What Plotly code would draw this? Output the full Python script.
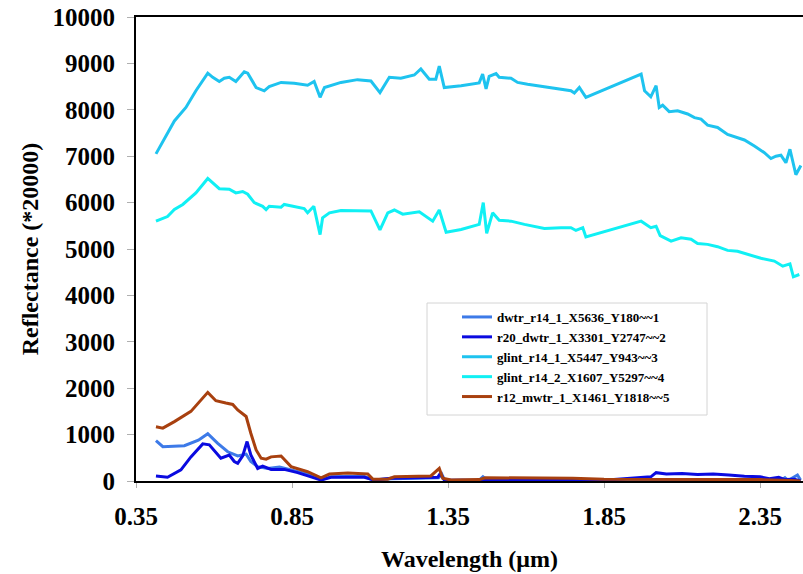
import plotly.graph_objects as go

# ---------------- data ----------------
series_names = [
    "dwtr_r14_1_X5636_Y180~~1",
    "r20_dwtr_1_X3301_Y2747~~2",
    "glint_r14_1_X5447_Y943~~3",
    "glint_r14_2_X1607_Y5297~~4",
    "r12_mwtr_1_X1461_Y1818~~5",
]
series_colors = ["#3d7ae8", "#0a0ae0", "#1ec3ef", "#10f0f4", "#a8400f"]

wl_1 = [0.414, 0.436, 0.505, 0.55, 0.58, 0.612, 0.644, 0.676, 0.703, 0.718, 0.74, 0.772,
        0.81, 0.847, 0.911, 0.948, 0.975, 1.08, 1.11, 1.17, 1.32, 1.33, 1.34, 1.45,
        1.462, 1.475, 1.6, 1.8, 2.0, 2.3, 2.42, 2.43, 2.44, 2.47, 2.48]
refl_1 = [870, 740, 760, 880, 1020, 810, 630, 540, 580, 420, 310, 270,
          300, 240, 130, 40, 90, 100, 20, 50, 70, 150, 10, 20,
          90, 20, 40, 20, 20, 10, 20, 70, 10, 130, 20]

wl_2 = [0.414, 0.451, 0.494, 0.526, 0.564, 0.585, 0.622, 0.649, 0.665, 0.676, 0.692, 0.706,
        0.718, 0.74, 0.756, 0.783, 0.825, 0.868, 0.911, 0.943, 0.975, 1.082, 1.114, 1.167,
        1.317, 1.325, 1.338, 1.45, 1.6, 1.86, 2.0, 2.017, 2.05, 2.1, 2.15, 2.2,
        2.25, 2.3, 2.35, 2.38, 2.41, 2.43, 2.46, 2.48]
refl_2 = [110, 80, 240, 520, 800, 780, 490, 560, 420, 380, 540, 850,
          560, 270, 320, 250, 250, 180, 90, 20, 80, 80, 20, 60,
          80, 160, 20, 10, 20, 20, 90, 180, 150, 160, 140, 150,
          130, 100, 90, 50, 80, 30, 40, 0]

wl_3 = [0.414, 0.473, 0.51, 0.542, 0.58, 0.596, 0.617, 0.633, 0.649, 0.67, 0.697, 0.708,
        0.735, 0.761, 0.777, 0.815, 0.857, 0.90, 0.921, 0.94, 0.954, 1.007, 1.06, 1.103,
        1.132, 1.162, 1.199, 1.242, 1.263, 1.29, 1.311, 1.322, 1.338, 1.392, 1.45, 1.461,
        1.472, 1.482, 1.504, 1.514, 1.552, 1.573, 1.605, 1.659, 1.712, 1.744, 1.755, 1.771,
        1.792, 1.969, 1.98, 2.0, 2.017, 2.027, 2.038, 2.059, 2.086, 2.118, 2.14, 2.161,
        2.182, 2.214, 2.246, 2.278, 2.3, 2.332, 2.363, 2.385, 2.401, 2.417, 2.433, 2.446,
        2.457, 2.465, 2.481]
refl_3 = [7050, 7760, 8050, 8410, 8790, 8700, 8610, 8680, 8700, 8610, 8820, 8790,
          8480, 8410, 8500, 8590, 8570, 8530, 8610, 8270, 8480, 8590, 8650, 8620,
          8370, 8700, 8680, 8750, 8880, 8660, 8660, 8940, 8480, 8520, 8580, 8770,
          8450, 8720, 8780, 8700, 8680, 8590, 8550, 8500, 8450, 8410, 8360, 8480,
          8270, 8770, 8410, 8280, 8520, 8050, 8100, 7960, 7980, 7910, 7830, 7800,
          7670, 7620, 7470, 7400, 7350, 7220, 7080, 6950, 7000, 7020, 6860, 7150,
          6830, 6600, 6800]

wl_4 = [0.414, 0.451, 0.473, 0.5, 0.542, 0.58, 0.617, 0.649, 0.67, 0.692, 0.708, 0.729,
        0.756, 0.767, 0.777, 0.815, 0.825, 0.868, 0.889, 0.90, 0.92, 0.94, 0.948, 0.97,
        1.007, 1.103, 1.132, 1.157, 1.178, 1.205, 1.258, 1.301, 1.322, 1.344, 1.392, 1.45,
        1.463, 1.474, 1.493, 1.514, 1.552, 1.595, 1.659, 1.712, 1.744, 1.76, 1.782, 1.792,
        1.969, 2.0, 2.017, 2.03, 2.065, 2.097, 2.129, 2.15, 2.182, 2.214, 2.246, 2.278,
        2.31, 2.353, 2.396, 2.423, 2.446, 2.457, 2.476]
refl_4 = [5600, 5700, 5850, 5960, 6210, 6520, 6300, 6290, 6210, 6240, 6180, 6000,
          5920, 5850, 5920, 5900, 5960, 5890, 5870, 5780, 5920, 5310, 5670, 5780,
          5830, 5820, 5410, 5780, 5840, 5750, 5800, 5600, 5840, 5360, 5420, 5530,
          6000, 5340, 5780, 5620, 5600, 5530, 5440, 5460, 5460, 5400, 5460, 5260,
          5600, 5460, 5490, 5290, 5170, 5240, 5210, 5120, 5100, 5050, 4970, 4950,
          4880, 4800, 4740, 4630, 4680, 4400, 4450]

wl_5 = [0.414, 0.436, 0.473, 0.526, 0.58, 0.606, 0.638, 0.66, 0.676, 0.703, 0.718, 0.735,
        0.751, 0.767, 0.783, 0.815, 0.847, 0.90, 0.943, 0.97, 1.029, 1.093, 1.109, 1.157,
        1.178, 1.295, 1.322, 1.333, 1.36, 1.45, 1.47, 1.6, 1.75, 1.85, 2.0, 2.2,
        2.35, 2.45, 2.48]
refl_5 = [1170, 1140, 1280, 1500, 1910, 1730, 1680, 1650, 1530, 1390, 1030, 670,
          490, 470, 520, 540, 310, 200, 70, 150, 170, 150, 40, 40,
          90, 110, 270, 60, 20, 30, 70, 70, 60, 40, 40, 40,
          30, 10, 0]

wavelengths = [wl_1, wl_2, wl_3, wl_4, wl_5]
reflectances = [refl_1, refl_2, refl_3, refl_4, refl_5]

x_ticks = [0.35, 0.85, 1.35, 1.85, 2.35]
x_tick_labels = ["0.35", "0.85", "1.35", "1.85", "2.35"]
y_ticks = [0, 1000, 2000, 3000, 4000, 5000, 6000, 7000, 8000, 9000, 10000]
y_tick_labels = [str(v) for v in y_ticks]

# ---------------- figure ----------------
SERIF = "Liberation Serif, Times New Roman, serif"

fig = go.Figure()
for name, color, xs, ys in zip(series_names, series_colors, wavelengths, reflectances):
    fig.add_trace(go.Scatter(x=xs, y=ys, mode="lines", name=name,
                             line=dict(color=color, width=3)))

fig.update_layout(
    width=803, height=574,
    margin=dict(l=136, r=0, t=17, b=93),
    paper_bgcolor="white", plot_bgcolor="white",
    showlegend=True,
    legend=dict(
        x=(457 - 136) / 667, y=1 - (302 - 17) / 464,
        xanchor="left", yanchor="top",
        bgcolor="rgba(0,0,0,0)", borderwidth=0,
        font=dict(family=SERIF, size=13, color="black", weight="bold"),
        tracegroupgap=0,
    ),
    shapes=[dict(type="rect", xref="paper", yref="paper",
                 x0=(427 - 136) / 667, x1=(707 - 136) / 667,
                 y0=1 - (303 - 17) / 464, y1=1 - (415 - 17) / 464,
                 line=dict(color="#d4d4d4", width=1), fillcolor="rgba(0,0,0,0)",
                 layer="below")],
)

fig.update_xaxes(
    range=[0.35, 0.35 + 667 / 312], tickvals=x_ticks, ticktext=x_tick_labels,
    showgrid=False, zeroline=False,
    showline=True, linecolor="black", linewidth=2, mirror=True,
    ticks="outside", ticklen=5, tickcolor="#b0b0b0", tickwidth=1,
    ticklabelstandoff=7,
    tickfont=dict(family=SERIF, size=25, color="black", weight="bold"),
    title=dict(text="Wavelength (\u03bcm)", standoff=21,
               font=dict(family=SERIF, size=24, color="black", weight="bold")),
)
fig.update_yaxes(
    range=[0, 10000], tickvals=y_ticks, ticktext=y_tick_labels,
    showgrid=False, zeroline=False,
    showline=True, linecolor="black", linewidth=2, mirror=False,
    ticks="outside", ticklen=7, tickcolor="#b0b0b0", tickwidth=1,
    ticklabelstandoff=7,
    tickfont=dict(family=SERIF, size=25, color="black", weight="bold"),
    title=dict(text="Reflectance (*20000)", standoff=7,
               font=dict(family=SERIF, size=24, color="black", weight="bold")),
)

fig.write_html("out.html")
